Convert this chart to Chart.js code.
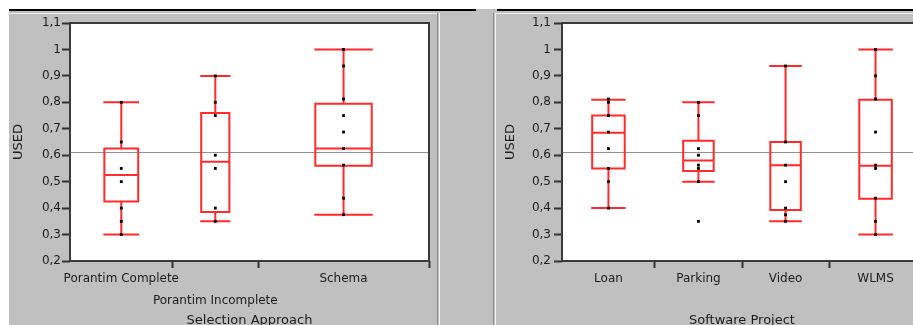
<!DOCTYPE html>
<html>
<head>
<meta charset="utf-8">
<script src="https://cdn.jsdelivr.net/npm/chart.js@4/dist/chart.umd.min.js"></script>
<style>
  html, body { margin:0; padding:0; width:913px; height:325px; overflow:hidden; background:#ffffff; }
  .abs { position:absolute; }
  canvas { position:absolute; }
</style>
</head>
<body>
<div class="abs" style="left:9px;top:9px;width:904px;height:316px;background:#c0c0c0"></div>
<div class="abs" style="left:9px;top:9px;width:467px;height:2px;background:#000"></div>
<div class="abs" style="left:497px;top:9px;width:416px;height:2px;background:#000"></div>
<div class="abs" style="left:9px;top:13px;width:429px;height:1px;background:#ececec"></div>
<div class="abs" style="left:437px;top:13px;width:1px;height:312px;background:#8a8a8a"></div>
<div class="abs" style="left:439px;top:13px;width:1px;height:312px;background:#f4f4f4"></div>
<div class="abs" style="left:493px;top:13px;width:1px;height:312px;background:#8a8a8a"></div>
<div class="abs" style="left:495px;top:13px;width:1px;height:312px;background:#f4f4f4"></div>
<div class="abs" style="left:496px;top:13px;width:417px;height:1px;background:#ececec"></div>

<canvas id="left" width="428" height="320" style="left:9px;top:11px"></canvas>
<canvas id="right" width="434" height="320" style="left:496px;top:11px"></canvas>

<script>
// ---------- data ----------
const yTickValues = [0.2, 0.3, 0.4, 0.5, 0.6, 0.7, 0.8, 0.9, 1.0, 1.1];

const approachCategories = ['Porantim Complete', 'Porantim Incomplete', 'Schema'];
const approachCounts = [12, 10, 20];
const approachMin    = [0.30, 0.35, 0.375];
const approachQ1     = [0.425, 0.385, 0.56];
const approachMedian = [0.525, 0.575, 0.625];
const approachQ3     = [0.625, 0.76, 0.795];
const approachMax    = [0.80, 0.90, 1.00];
const approachPoints = [
  [0.80, 0.65, 0.55, 0.50, 0.40, 0.35, 0.30],
  [0.90, 0.80, 0.75, 0.60, 0.55, 0.40, 0.35],
  [1.00, 0.9375, 0.8125, 0.75, 0.6875, 0.625, 0.5625, 0.4375, 0.375]
];
const approachMean = 0.61;

const projectCategories = ['Loan', 'Parking', 'Video', 'WLMS'];
const projectCounts = [16, 15, 15, 16];
const projectMin    = [0.40, 0.50, 0.35, 0.30];
const projectQ1     = [0.55, 0.54, 0.393, 0.435];
const projectMedian = [0.685, 0.58, 0.5625, 0.56];
const projectQ3     = [0.75, 0.655, 0.65, 0.81];
const projectMax    = [0.81, 0.80, 0.9375, 1.00];
const projectPoints = [
  [0.8125, 0.80, 0.75, 0.6875, 0.625, 0.55, 0.50, 0.40],
  [0.80, 0.75, 0.625, 0.60, 0.5625, 0.55, 0.50, 0.35],
  [0.9375, 0.65, 0.5625, 0.50, 0.40, 0.375, 0.35],
  [1.00, 0.90, 0.8125, 0.6875, 0.5625, 0.55, 0.4375, 0.35, 0.30]
];
const projectMean = 0.61;

// ---------- drawing ----------
const FONT = "'DejaVu Sans', sans-serif";
const TEXT = '#1c1c1c';

function fmtTick(v) {
  return String(Number(v.toFixed(2))).replace('.', ',');
}

function makeChart(id, d, st) {
  let acc = 0;
  const groups = d.counts.map(n => { const s = acc; acc += n; return { s, e: acc, c: s + n / 2, n }; });
  const total = acc;

  const outline = [];
  groups.forEach((g, i) => {
    const h = g.n * st.boxFrac / 2, x0 = g.c - h, x1 = g.c + h;
    const gap = { x: g.c, y: null };
    outline.push(
      { x: x0, y: d.q1[i] }, { x: x1, y: d.q1[i] }, { x: x1, y: d.q3[i] }, { x: x0, y: d.q3[i] }, { x: x0, y: d.q1[i] }, gap,
      { x: x0, y: d.med[i] }, { x: x1, y: d.med[i] }, gap,
      { x: g.c, y: d.q3[i] }, { x: g.c, y: d.max[i] }, gap,
      { x: x0, y: d.max[i] }, { x: x1, y: d.max[i] }, gap,
      { x: g.c, y: d.min[i] }, { x: g.c, y: d.q1[i] }, gap,
      { x: x0, y: d.min[i] }, { x: x1, y: d.min[i] }, gap
    );
  });
  const dots = [];
  groups.forEach((g, i) => d.points[i].forEach(v => dots.push({ x: g.c, y: v })));

  const boundaries = groups.map(g => g.e).filter(v => v < total || st.showLastBoundary);
  const centers = groups.map(g => g.c);
  const xTicks = boundaries.concat(centers).sort((a, b) => a - b);

  const frame = {
    id: 'frame',
    beforeDraw(chart) {
      const a = chart.chartArea, ctx = chart.ctx;
      ctx.save(); ctx.fillStyle = '#ffffff';
      ctx.fillRect(a.left, a.top, a.right - a.left, a.bottom - a.top);
      ctx.restore();
    },
    afterDatasetsDraw(chart) {
      const a = chart.chartArea, ctx = chart.ctx;
      ctx.save(); ctx.lineWidth = 2; ctx.strokeStyle = '#3a3a3a';
      ctx.strokeRect(a.left, a.top, a.right - a.left, a.bottom - a.top);
      ctx.restore();
    }
  };

  return new Chart(document.getElementById(id), {
    type: 'scatter',
    data: {
      datasets: [
        { data: dots, pointStyle: 'rect', pointRadius: 2, backgroundColor: '#000', borderWidth: 0, order: 0 },
        { data: outline, showLine: true, borderColor: '#ff2a2a', borderWidth: 2, pointRadius: 0,
          borderCapStyle: 'square', borderJoinStyle: 'miter', tension: 0, spanGaps: false, order: 1 },
        { data: [{ x: 0, y: d.mean }, { x: total, y: d.mean }], showLine: true, borderColor: '#8c8c8c',
          borderWidth: 1, pointRadius: 0, order: 2 }
      ]
    },
    options: {
      responsive: false, animation: false, devicePixelRatio: 1,
      layout: { padding: { top: 12, right: st.padRight, bottom: 0, left: 0 } },
      plugins: { legend: { display: false }, tooltip: { enabled: false } },
      scales: {
        x: {
          type: 'linear', min: 0, max: total,
          afterBuildTicks: s => { s.ticks = xTicks.map(v => ({ value: v })); },
          afterFit: s => { s.height = 70; },
          border: { display: false },
          grid: {
            drawOnChartArea: false, drawTicks: true, tickLength: 7, tickWidth: 2,
            tickColor: c => (c.tick && boundaries.includes(c.tick.value)) ? '#333' : 'rgba(0,0,0,0)'
          },
          ticks: {
            autoSkip: false, maxRotation: 0, minRotation: 0, padding: 0, color: TEXT,
            font: { family: FONT, size: 12, lineHeight: '22px' },
            callback: (v) => {
              const i = centers.indexOf(v);
              if (i < 0) return '';
              return (st.stagger && i % 2 === 1) ? ['', d.cats[i]] : [d.cats[i], ''];
            }
          },
          title: { display: true, text: d.title, color: TEXT, font: { family: FONT, size: 13 }, padding: { top: 0, bottom: 3 } }
        },
        y: {
          type: 'linear', min: 0.2, max: 1.1,
          afterBuildTicks: s => { s.ticks = yTickValues.map(v => ({ value: v })); },
          afterFit: s => { s.width = st.yWidth; },
          border: { display: false },
          grid: { drawOnChartArea: false, drawTicks: true, tickLength: 8, tickWidth: 2, tickColor: '#333' },
          ticks: { padding: st.yTickPad, color: TEXT, font: { family: FONT, size: 12 }, callback: v => fmtTick(v) },
          title: { display: true, text: 'USED', color: TEXT, font: { family: FONT, size: 13 }, padding: { top: st.yTitlePad, bottom: 0 } }
        }
      }
    },
    plugins: [frame]
  });
}

makeChart('left', {
  cats: approachCategories, counts: approachCounts, min: approachMin, q1: approachQ1, med: approachMedian,
  q3: approachQ3, max: approachMax, points: approachPoints, mean: approachMean, title: 'Selection Approach'
}, { boxFrac: 0.33, yWidth: 61, yTickPad: 1, yTitlePad: 2, padRight: 8, stagger: true, showLastBoundary: true });

makeChart('right', {
  cats: projectCategories, counts: projectCounts, min: projectMin, q1: projectQ1, med: projectMedian,
  q3: projectQ3, max: projectMax, points: projectPoints, mean: projectMean, title: 'Software Project'
}, { boxFrac: 0.35, yWidth: 66, yTickPad: 3, yTitlePad: 7, padRight: 8, stagger: false, showLastBoundary: true });
</script>
</body>
</html>
